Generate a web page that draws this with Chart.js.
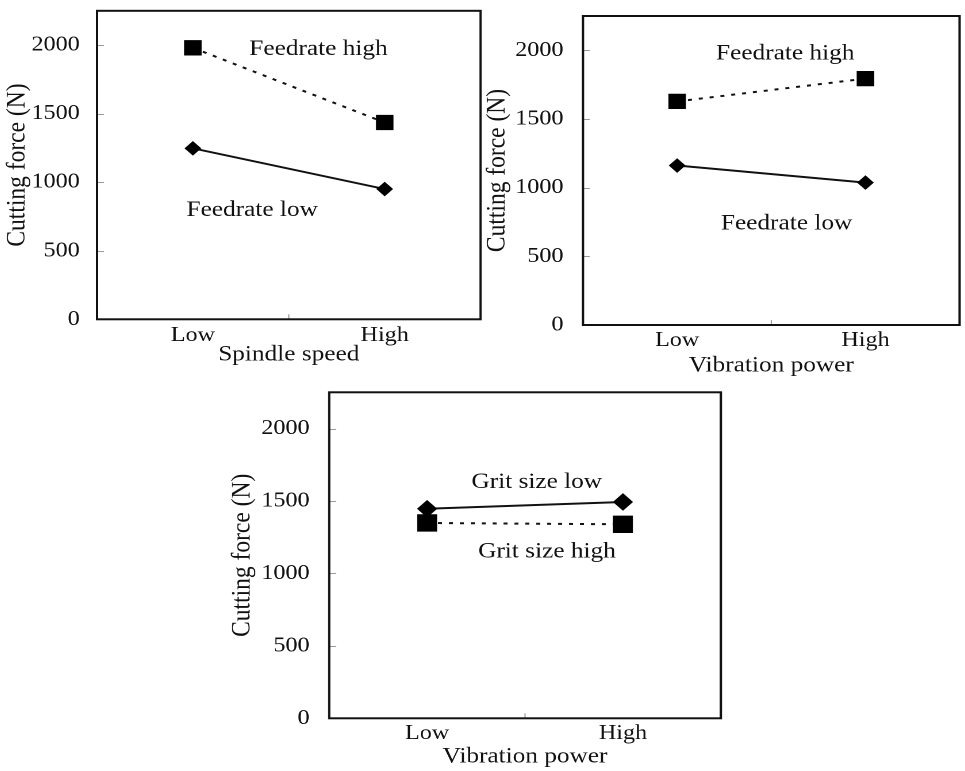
<!DOCTYPE html>
<html><head><meta charset="utf-8">
<script src="https://cdn.jsdelivr.net/npm/chart.js@4.4.1/dist/chart.umd.min.js"></script>
<style>
html,body{margin:0;padding:0;background:#fff;overflow:hidden;width:965px;height:771px;position:relative;}
canvas{position:absolute;display:block;}
</style></head><body>
<canvas id="c1" width="428" height="368" style="left:1px;top:0px;width:492.2px;height:368px"></canvas>
<canvas id="c2" width="427" height="379" style="left:481px;top:0px;width:491.05px;height:379px"></canvas>
<canvas id="c3" width="443" height="390" style="left:226px;top:380px;width:509.45px;height:390px"></canvas>
<script>
// ---- data ----
const categories = ['Low', 'High'];
const yTickValues = [0, 500, 1000, 1500, 2000];
const yAxisMin = 0;
const yAxisMax = 2250;
const spindleFeedHigh = [1980, 1435];
const spindleFeedLow = [1247, 950];
const vibFeedHigh = [1628, 1794];
const vibFeedLow = [1161, 1037];
const gritHigh = [1348, 1339];
const gritLow = [1446, 1493];

const FONT = '"Liberation Serif", "Times New Roman", serif';
const INK = '#111';

const framePlugin = {
  id: 'frame',
  beforeDatasetsDraw(chart) {
    const {ctx, chartArea: a, scales: {x, y}} = chart;
    ctx.save();
    ctx.strokeStyle = '#9a9a9a';
    ctx.lineWidth = 1;
    y.ticks.forEach(t => {
      const py = Math.round(y.getPixelForValue(t.value)) + 0.5;
      ctx.beginPath(); ctx.moveTo(a.left, py); ctx.lineTo(a.left + 6, py); ctx.stroke();
    });
    const mid = (x.getPixelForValue(0) + x.getPixelForValue(1)) / 2;
    ctx.beginPath(); ctx.moveTo(mid, a.bottom); ctx.lineTo(mid, a.bottom - 5); ctx.stroke();
    ctx.strokeStyle = INK;
    ctx.lineWidth = 2;
    ctx.strokeRect(a.left, a.top, a.width, a.height);
    ctx.restore();
  }
};

const notesPlugin = {
  id: 'notes',
  afterDatasetsDraw(chart, args, opts) {
    const {ctx, scales: {x, y}} = chart;
    ctx.save();
    ctx.font = '22px ' + FONT;
    ctx.fillStyle = INK;
    ctx.textAlign = 'center';
    ctx.textBaseline = 'middle';
    (opts.items || []).forEach(n => {
      ctx.fillText(n.text, x.getPixelForValue(n.at), y.getPixelForValue(n.level));
    });
    ctx.restore();
  }
};

function seriesHigh(label, data, r) {
  return {label, data, borderColor: INK, borderWidth: 2, borderDash: [3.5, 6],
    pointStyle: 'rect', pointRadius: r, pointHoverRadius: r,
    pointBackgroundColor: '#000', pointBorderColor: '#000', pointBorderWidth: 0,
    fill: false, tension: 0};
}
function seriesLow(label, data, r) {
  return {label, data, borderColor: INK, borderWidth: 2,
    pointStyle: 'rectRot', pointRadius: r, pointHoverRadius: r,
    pointBackgroundColor: '#000', pointBorderColor: '#000', pointBorderWidth: 0,
    fill: false, tension: 0};
}

function makeChart(id, c) {
  return new Chart(document.getElementById(id), {
    type: 'line',
    data: {labels: categories, datasets: c.datasets},
    plugins: [framePlugin, notesPlugin],
    options: {
      responsive: false, animation: false,
      devicePixelRatio: 2,
      layout: {padding: {top: c.padTop, right: c.padRight, left: 0, bottom: 0}},
      plugins: {legend: {display: false}, tooltip: {enabled: false}, notes: {items: c.notes}},
      scales: {
        x: {
          type: 'category', offset: true,
          grid: {display: false, drawTicks: false}, border: {display: false},
          ticks: {padding: c.xTickPad, color: INK, font: {family: FONT, size: 21}, maxRotation: 0},
          title: {display: true, text: c.xTitle, color: INK, font: {family: FONT, size: 22}, padding: {top: 0, bottom: 0}},
          afterFit: s => { s.height = c.xAxisH; s.paddingLeft = 0; s.paddingRight = 0; }
        },
        y: {
          min: yAxisMin, max: yAxisMax, bounds: 'data',
          grid: {display: false, drawTicks: false}, border: {display: false},
          ticks: {padding: c.yTickPad, color: INK, font: {family: FONT, size: 21}, callback: v => String(v)},
          afterBuildTicks: s => { s.ticks = yTickValues.map(v => ({value: v})); },
          title: {display: true, text: 'Cutting force (N)', color: INK, font: {family: FONT, size: 23.5}, padding: {top: 0, bottom: 0}},
          afterFit: s => { s.width = c.yAxisW; s.paddingTop = 0; s.paddingBottom = 0; }
        }
      }
    }
  });
}

makeChart('c1', {
  datasets: [seriesHigh('Feedrate high', spindleFeedHigh, 10.8), seriesLow('Feedrate low', spindleFeedLow, 7.3)],
  xTitle: 'Spindle speed', padTop: 8, padRight: 2.8, yAxisW: 83.5, xAxisH: 48.7, xTickPad: 3.4, yTickPad: 15,
  notes: [{text: 'Feedrate high', at: 0.655, level: 1971}, {text: 'Feedrate low', at: 0.309, level: 797}]
});
makeChart('c2', {
  datasets: [seriesHigh('Feedrate high', vibFeedHigh, 10.8), seriesLow('Feedrate low', vibFeedLow, 7.3)],
  xTitle: 'Vibration power', padTop: 16, padRight: 3.5, yAxisW: 88.7, xAxisH: 54, xTickPad: 3.1, yTickPad: 17,
  notes: [{text: 'Feedrate high', at: 0.574, level: 1976}, {text: 'Feedrate low', at: 0.581, level: 736}]
});
makeChart('c3', {
  datasets: [seriesHigh('Grit size high', gritHigh, 12.3), seriesLow('Grit size low', gritLow, 8.8)],
  xTitle: 'Vibration power', padTop: 7.3, padRight: 3.3, yAxisW: 89.8, xAxisH: 51.7, xTickPad: 2.8, yTickPad: 17,
  notes: [{text: 'Grit size low', at: 0.56, level: 1631}, {text: 'Grit size high', at: 0.612, level: 1150}]
});
</script>
</body></html>
